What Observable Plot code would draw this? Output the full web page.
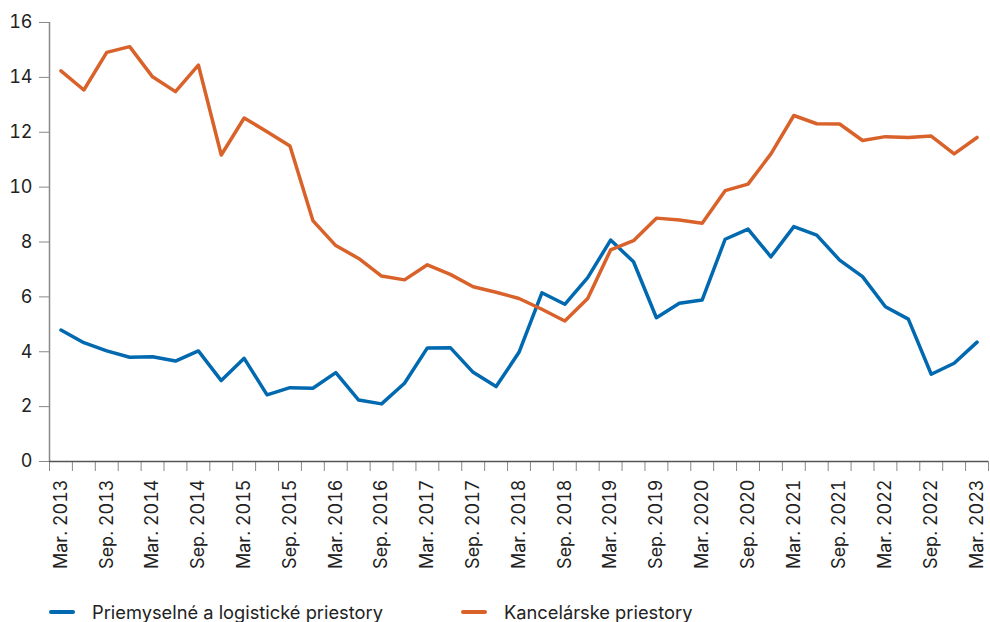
<!DOCTYPE html>
<html><head><meta charset="utf-8">
<script src="https://cdn.jsdelivr.net/npm/d3@7"></script>
<script src="https://cdn.jsdelivr.net/npm/@observablehq/plot@0.6"></script>
<style>
body{margin:0;background:#fff;font-family:Inter,sans-serif;}
#legend{position:relative;width:990px;height:37px;font-size:18.3px;color:#222;}
#legend .sw{position:absolute;top:25px;width:26px;height:4px;border-radius:2px;}
#legend .tx{position:absolute;top:16px;line-height:22px;white-space:nowrap;}
</style></head><body><div id="chart"></div><div id="legend"></div>
<script>
const quarters = [
 "Mar. 2013","Jun. 2013","Sep. 2013","Dec. 2013",
 "Mar. 2014","Jun. 2014","Sep. 2014","Dec. 2014",
 "Mar. 2015","Jun. 2015","Sep. 2015","Dec. 2015",
 "Mar. 2016","Jun. 2016","Sep. 2016","Dec. 2016",
 "Mar. 2017","Jun. 2017","Sep. 2017","Dec. 2017",
 "Mar. 2018","Jun. 2018","Sep. 2018","Dec. 2018",
 "Mar. 2019","Jun. 2019","Sep. 2019","Dec. 2019",
 "Mar. 2020","Jun. 2020","Sep. 2020","Dec. 2020",
 "Mar. 2021","Jun. 2021","Sep. 2021","Dec. 2021",
 "Mar. 2022","Jun. 2022","Sep. 2022","Dec. 2022",
 "Mar. 2023"];
const industrial = [4.79,4.33,4.03,3.80,3.82,3.66,4.03,2.95,3.76,2.43,2.69,2.67,3.24,2.24,2.10,2.85,4.14,4.15,3.25,2.73,3.98,6.15,5.73,6.70,8.07,7.28,5.24,5.77,5.89,8.10,8.47,7.46,8.56,8.25,7.34,6.74,5.64,5.19,3.18,3.58,4.35];
const office = [14.24,13.54,14.91,15.12,14.02,13.48,14.45,11.17,12.52,12.02,11.50,8.78,7.87,7.40,6.76,6.62,7.17,6.82,6.37,6.17,5.94,5.55,5.12,5.94,7.71,8.05,8.87,8.80,8.68,9.87,10.11,11.21,12.61,12.31,12.30,11.70,11.84,11.81,11.86,11.21,11.81];
const seriesNames = ["Priemyselné a logistické priestory","Kancelárske priestory"];
const seriesColors = ["#0069b0","#d9622b"];
const yTicks = [0,2,4,6,8,10,12,14,16];

const data = quarters.flatMap((q,i)=>[
  {i, q, v: industrial[i], s: seriesNames[0]},
  {i, q, v: office[i], s: seriesNames[1]}
]);
const labelIdx = quarters.map((q,i)=>i).filter(i=>i%2===0);
const boundaries = d3.range(-0.5, quarters.length, 1);

const chart = Plot.plot({
  width: 990, height: 585,
  marginTop: 22, marginBottom: 124, marginLeft: 49, marginRight: 2,
  style: {fontFamily: "Inter, sans-serif", fontSize: "18px", color: "#222", background: "#fff"},
  x: {type: "linear", domain: [-0.5, quarters.length - 0.5]},
  y: {domain: [0, 16]},
  color: {domain: seriesNames, range: seriesColors},
  marks: [
    Plot.ruleX([-0.5], {stroke: "#888", strokeWidth: 1.5}),
    Plot.axisY({ticks: yTicks, tickSize: 10, tickPadding: 7, stroke: "#888", fontSize: 18, label: null}),
    Plot.axisX({ticks: boundaries, tickSize: 10, tickFormat: () => "", stroke: "#888", label: null}),
    Plot.axisX({ticks: labelIdx, tickSize: 0, tickPadding: 18, tickRotate: -90, fontSize: 18, tickFormat: i => quarters[i], label: null}),
    Plot.ruleY([0], {stroke: "#555", strokeWidth: 1.5}),
    Plot.lineY(data, {x: "i", y: "v", z: "s", stroke: "s", strokeWidth: 3.5})
  ]
});
document.getElementById("chart").append(chart);

const legend = document.getElementById("legend");
const pos = [[49, 92], [461, 504]];
seriesNames.forEach((n, k) => {
  const sw = document.createElement("div");
  sw.className = "sw"; sw.style.left = pos[k][0] + "px"; sw.style.background = seriesColors[k];
  const tx = document.createElement("div");
  tx.className = "tx"; tx.style.left = pos[k][1] + "px"; tx.textContent = n;
  legend.append(sw, tx);
});
</script></body></html>
